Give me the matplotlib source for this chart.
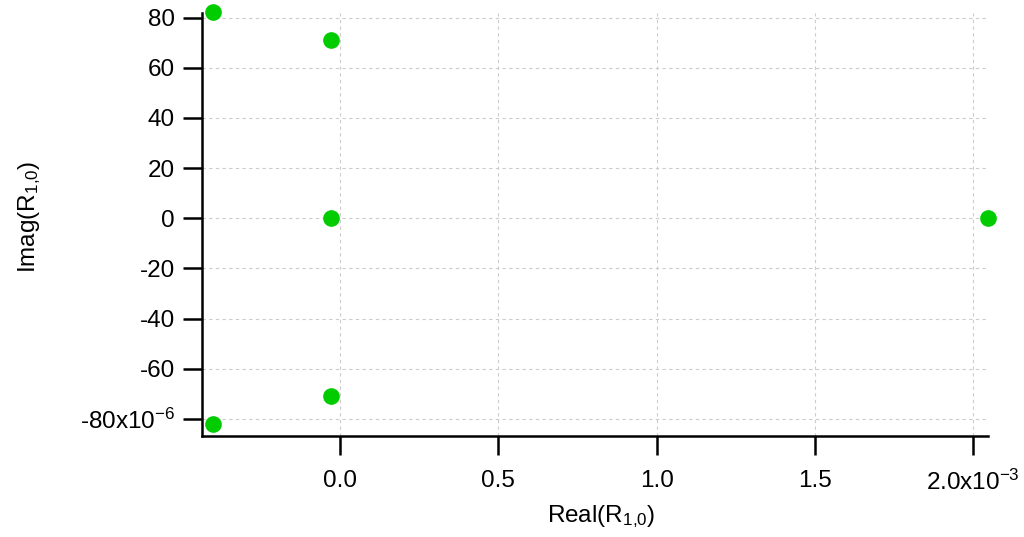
import numpy as np
import matplotlib.pyplot as plt

plt.rcParams['font.family'] = ['Liberation Sans', 'DejaVu Sans']
plt.rcParams['mathtext.default'] = 'regular'

# residue positions (real in 1e-3 units, imag in 1e-6 units)
real_vals = np.array([-0.401, -0.028, -0.030, -0.028, -0.401, 2.046]) * 1e-3
imag_vals = np.array([82.2, 71.0, 0.0, -71.0, -82.1, 0.0]) * 1e-6

x_ticks = np.array([0.0, 0.5, 1.0, 1.5, 2.0]) * 1e-3
x_labels = ['0.0', '0.5', '1.0', '1.5', '2.0x10$^{-3}$']
y_ticks = np.array([-80, -60, -40, -20, 0, 20, 40, 60, 80]) * 1e-6
y_labels = ['-80x10$^{-6}$', '-60', '-40', '-20', '0', '20', '40', '60', '80']

W, H = 1024, 537
fig = plt.figure(figsize=(W / 100, H / 100), dpi=100)
ax = fig.add_axes([202 / W, (H - 436) / H, (988 - 202) / W, (436 - 13) / H])

ax.plot(real_vals, imag_vals, 'o', color='#00cc00', markersize=12,
        markeredgewidth=0, clip_on=False, zorder=5)

ax.set_xlim(-0.436e-3, 2.047e-3)
ax.set_ylim(-86.8e-6, 81.8e-6)
ax.set_xticks(x_ticks)
ax.set_xticklabels(x_labels)
ax.set_yticks(y_ticks)
ax.set_yticklabels(y_labels)

for side in ['top', 'right']:
    ax.spines[side].set_visible(False)
for side in ['left', 'bottom']:
    ax.spines[side].set_linewidth(1.8)

ax.tick_params(direction='out', length=13.5, width=1.8, labelsize=17.5)
ax.tick_params(axis='x', pad=11)
ax.tick_params(axis='y', pad=6)
ax.grid(True, linestyle=(0, (3, 3)), color='#cccccc', linewidth=0.8)
ax.set_axisbelow(True)

ax.set_xlabel('Real(R$_{1{,}0}$)', fontsize=17.5)
ax.set_ylabel('Imag(R$_{1{,}0}$)', fontsize=17.5)
ax.xaxis.set_label_coords(0.508, -0.158)
ax.yaxis.set_label_coords(-0.202, 0.518)

fig.savefig('out.png', dpi=100)
